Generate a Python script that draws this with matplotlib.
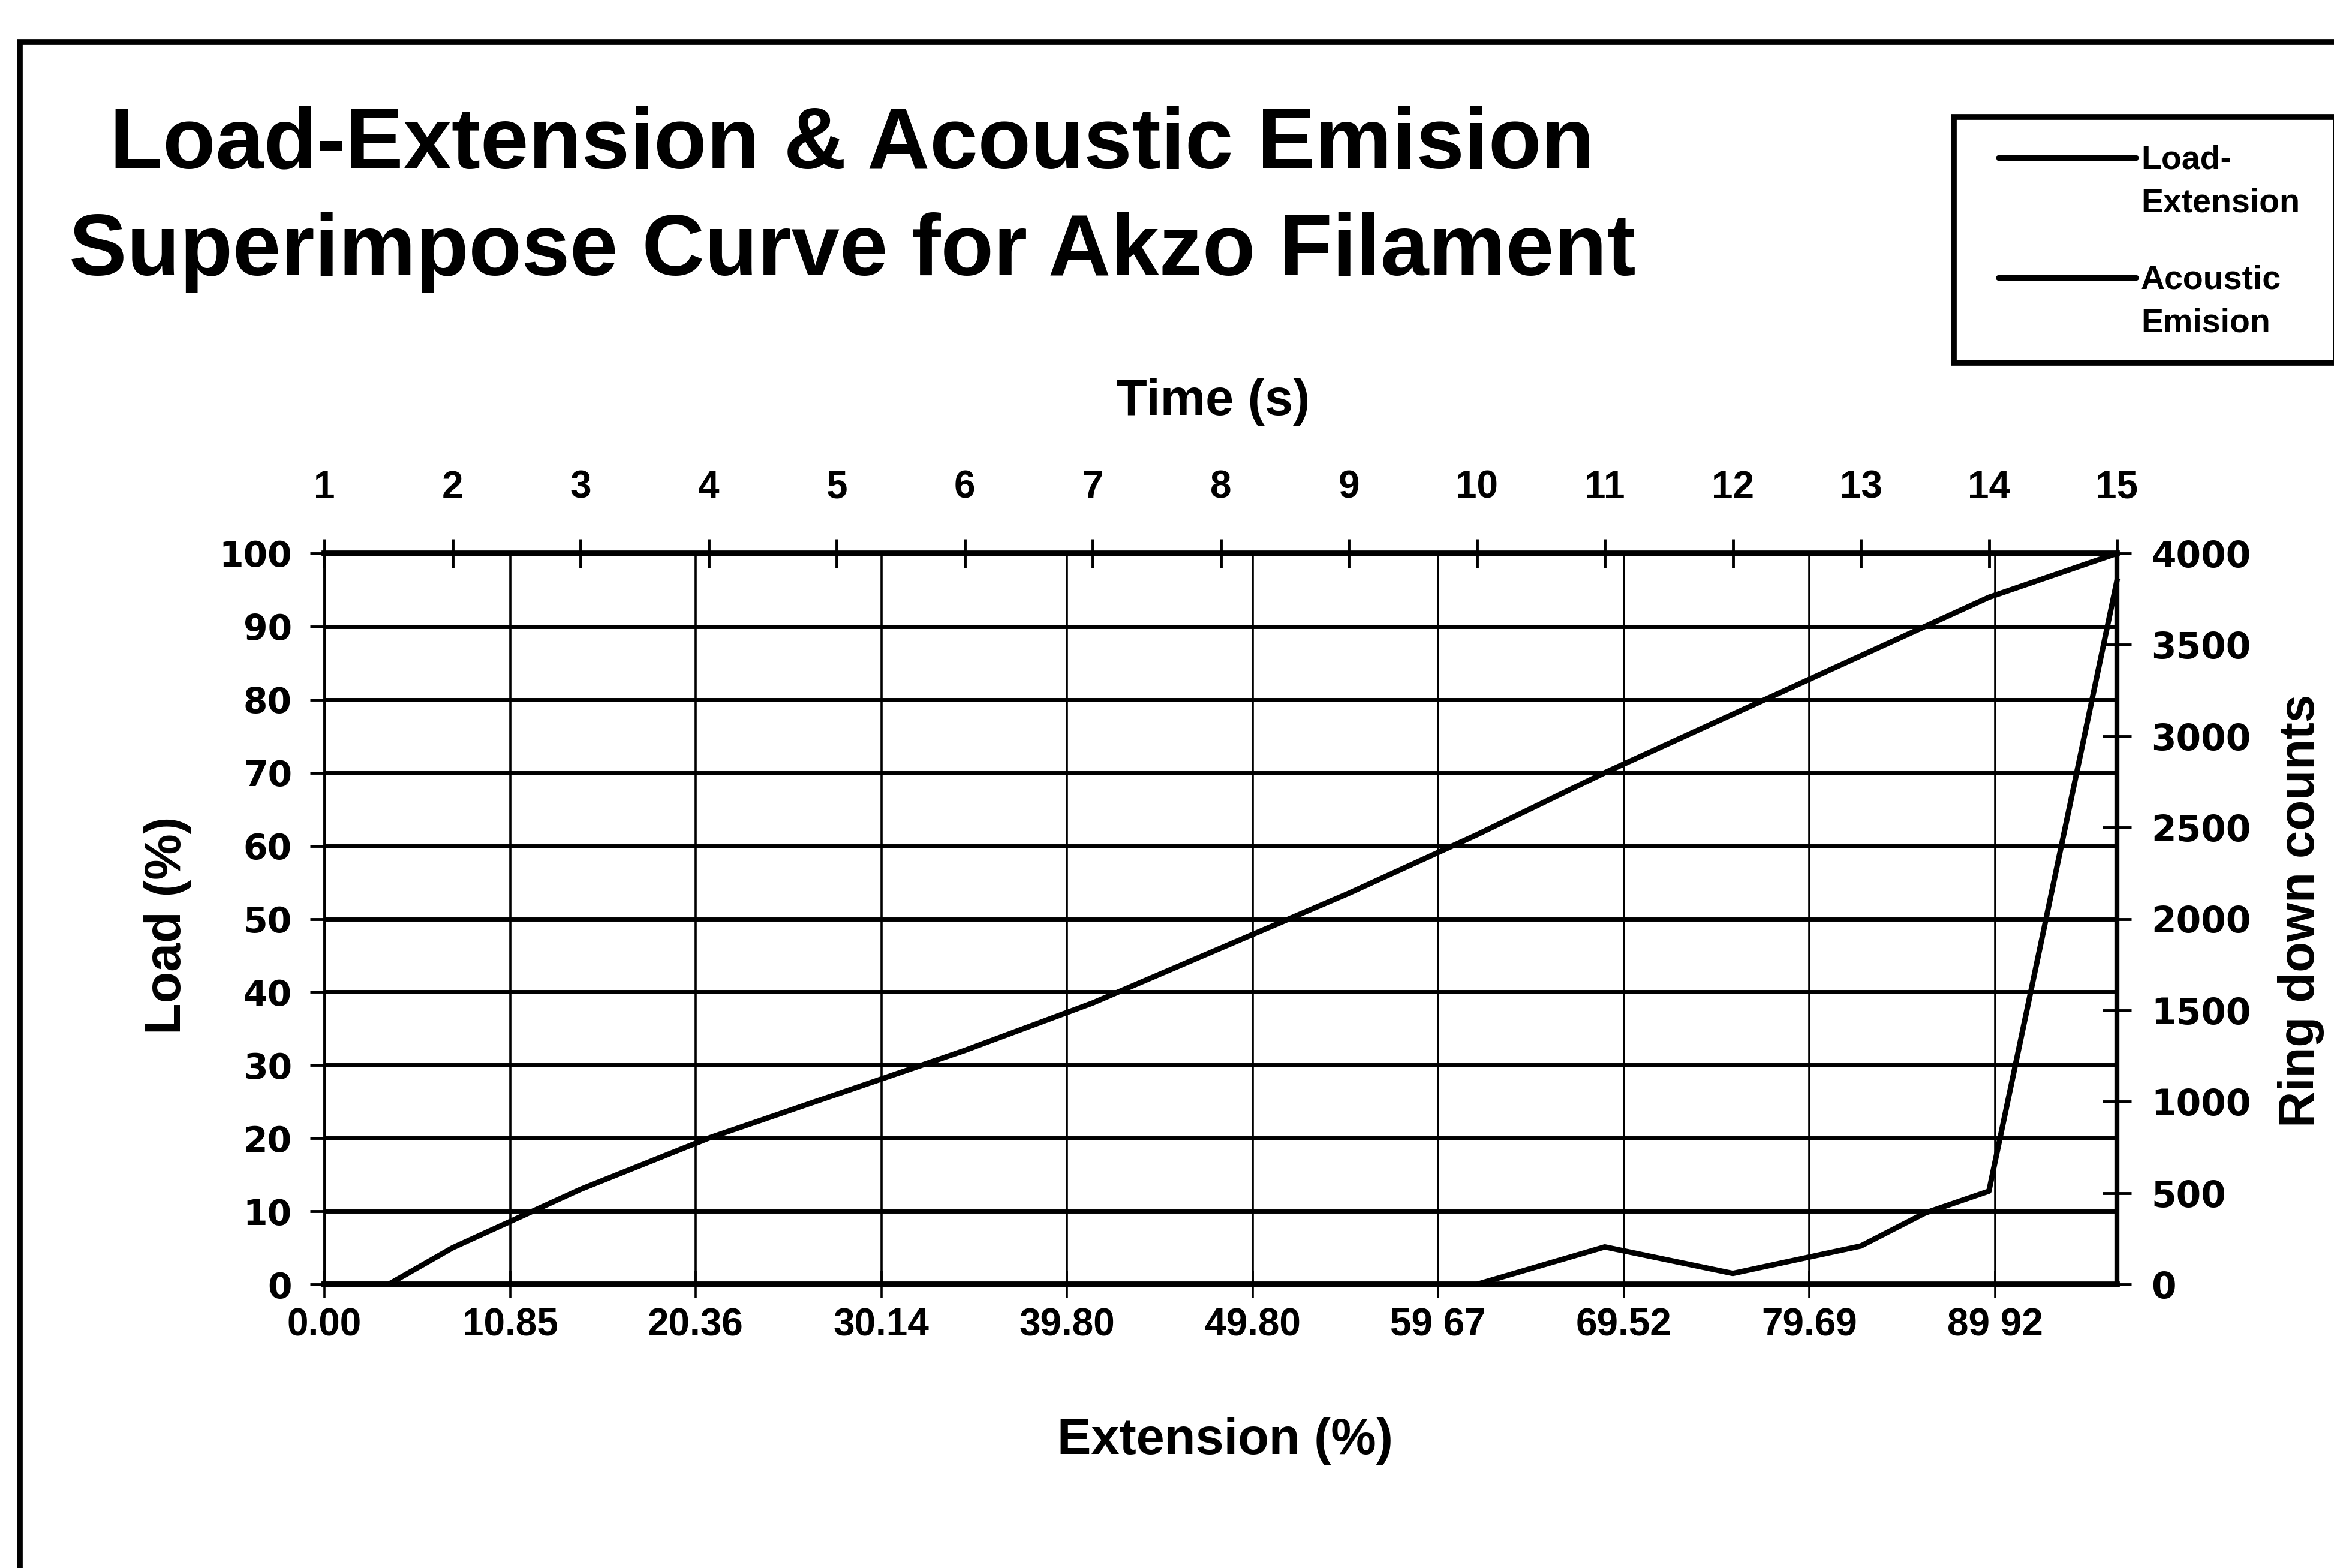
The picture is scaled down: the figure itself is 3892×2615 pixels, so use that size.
import matplotlib
matplotlib.use("Agg")
import matplotlib.pyplot as plt
from matplotlib.patches import Rectangle
from matplotlib.lines import Line2D

# ---- data -------------------------------------------------------------
# load curve against elapsed time (s)
time_s = [1, 1.5, 2, 3, 4, 5, 6, 7, 8, 9, 10, 11, 12, 13, 14, 15]
load_pct = [0, 0, 5, 13, 20, 26, 32, 38.5, 46, 53.5, 61.5, 70, 78, 86, 94, 100]

# acoustic emission ring-down counts against elapsed time (s)
ae_time_s = [1, 10, 11, 12, 13, 13.5, 14, 15]
ring_down = [0, 0, 205, 60, 210, 390, 510, 3850]

# bottom category axis (extension %)
extension_labels = ["0.00", "10.85", "20.36", "30.14", "39.80",
                    "49.80", "59 67", "69.52", "79.69", "89 92"]
time_ticks = list(range(1, 16))
load_ticks = list(range(0, 101, 10))
ring_ticks = list(range(0, 4001, 500))

# ---- figure -------------------------------------------------------------
W, H = 3892, 2615
DPI = 100
fig = plt.figure(figsize=(W / DPI, H / DPI), dpi=DPI)
fig.patch.set_facecolor("white")

FONT = ["Liberation Sans", "DejaVu Sans"]
WIDE = ["DejaVu Sans"]


def fx(px):
    return px / W


def fy(py):
    return 1 - py / H


# plot area
left_px, right_px, top_px, bottom_px = 541, 3530, 923, 2142
ax = fig.add_axes([fx(left_px), fy(bottom_px),
                   fx(right_px - left_px), (bottom_px - top_px) / H])
ax_w = right_px - left_px
ax_h = bottom_px - top_px

# bottom: extension categories, left: load
n_cat = len(extension_labels)
ax.set_xlim(0, 9.657)
ax.set_ylim(0, 100)
ax.set_xticks(range(n_cat))
ax.set_xticklabels(extension_labels, fontsize=46, fontweight="bold", family=FONT)
ax.set_yticks(load_ticks)
ax.set_yticklabels([str(v) for v in load_ticks], fontsize=42,
                   fontweight="bold", family=WIDE)
ax.grid(axis="y", color="black", linewidth=5)
ax.grid(axis="x", color="black", linewidth=2.6)
ax.tick_params(axis="x", direction="inout", length=32, width=2.6, pad=12,
               colors="black")
ax.tick_params(axis="y", direction="out", length=17, width=3.5, pad=22)
for side, lw in (("left", 3.5), ("right", 6), ("top", 7), ("bottom", 7)):
    ax.spines[side].set_linewidth(lw)
    ax.spines[side].set_color("black")
ax.set_xlabel("Extension (%)", fontsize=61, fontweight="bold", family=FONT)
ax.xaxis.set_label_coords((2043 - left_px) / ax_w, -(2403 - bottom_px) / ax_h)
ax.xaxis.label.set_va("center")
ax.set_ylabel("Load (%)", fontsize=62, fontweight="bold", family=FONT)
ax.yaxis.set_label_coords(-(left_px - 279) / ax_w, (bottom_px - 1543) / ax_h)
ax.yaxis.label.set_va("center")

# top: time axis, carries the data
ax_t = ax.twiny()
ax_t.set_xlim(time_ticks[0], time_ticks[-1])
ax_t.set_xticks(time_ticks)
ax_t.set_xticklabels([str(v) for v in time_ticks], fontsize=46,
                     fontweight="bold", family=FONT)
ax_t.tick_params(axis="x", direction="inout", length=34, width=3.5, pad=40)
ax_t.set_xlabel("Time (s)", fontsize=61, fontweight="bold", family=FONT)
ax_t.xaxis.set_label_coords((2023 - left_px) / ax_w, 1 + (top_px - 670) / ax_h)
ax_t.xaxis.label.set_va("center")
for s in ax_t.spines.values():
    s.set_visible(False)

load_line, = ax_t.plot(time_s, load_pct, color="black", linewidth=6.5,
                       solid_joinstyle="round", clip_on=False, zorder=5)

# right: ring-down counts
ax_ae = ax_t.twinx()
ax_ae.set_ylim(0, 4000)
ax_ae.set_yticks(ring_ticks)
ax_ae.set_yticklabels([str(v) for v in ring_ticks], fontsize=43,
                      fontweight="bold", family=WIDE)
ax_ae.tick_params(axis="y", direction="inout", length=34, width=3.5, pad=24)
ax_ae.set_ylabel("Ring down counts", fontsize=60, fontweight="bold",
                 family=FONT, rotation=90)
ax_ae.yaxis.set_label_coords(1 + (3837 - right_px) / ax_w,
                             (bottom_px - 1519) / ax_h)
ax_ae.yaxis.label.set_va("center")
for s in ax_ae.spines.values():
    s.set_visible(False)

ae_line, = ax_ae.plot(ae_time_s, ring_down, color="black", linewidth=6.5,
                      solid_joinstyle="round", clip_on=False, zorder=5)

# ---- title ------------------------------------------------------------------
fig.text(fx(1421), fy(280), "Load-Extension & Acoustic Emision",
         ha="center", va="baseline", fontsize=104, fontweight="bold", family=FONT)
fig.text(fx(1421), fy(459), "Superimpose Curve for Akzo Filament",
         ha="center", va="baseline", fontsize=104, fontweight="bold", family=FONT)

# ---- outer frame ------------------------------------------------------------
fig.add_artist(Rectangle((fx(33), -0.1), 1.2, fy(70) + 0.1,
                         transform=fig.transFigure, fill=False,
                         edgecolor="black", linewidth=7, clip_on=False))

# ---- legend box -------------------------------------------------------------
fig.add_artist(Rectangle((fx(3258), fy(605)), fx(3895 - 3258), (605 - 195) / H,
                         transform=fig.transFigure, facecolor="white",
                         edgecolor="black", linewidth=7))
entries = [(load_line, 263, ["Load-", "Extension"]),
           (ae_line, 463, ["Acoustic", "Emision"])]
for handle, y_px, words in entries:
    fig.add_artist(Line2D([fx(3332), fx(3562)], [fy(y_px), fy(y_px)],
                          transform=fig.transFigure, color=handle.get_color(),
                          linewidth=handle.get_linewidth(),
                          solid_capstyle="round"))
    fig.text(fx(3570), fy(y_px + 18), words[0], ha="left", va="baseline",
             fontsize=40, fontweight="bold", family=FONT)
    fig.text(fx(3570), fy(y_px + 90), words[1], ha="left", va="baseline",
             fontsize=40, fontweight="bold", family=FONT)

fig.savefig("out.png", dpi=DPI, facecolor="white")
